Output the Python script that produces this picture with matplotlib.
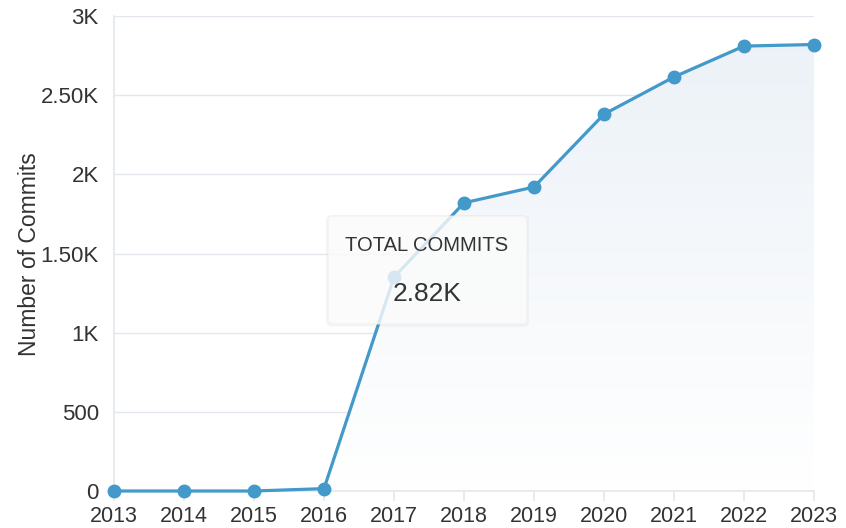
import numpy as np
import matplotlib.pyplot as plt
from matplotlib.patches import FancyBboxPatch, Polygon
from matplotlib.colors import LinearSegmentedColormap

plt.rcParams['font.family'] = ['Liberation Sans', 'DejaVu Sans']

years = [2013, 2014, 2015, 2016, 2017, 2018, 2019, 2020, 2021, 2022, 2023]
commits = [0, 0, 0, 15, 1350, 1820, 1920, 2380, 2615, 2810, 2820]
yticks = [0, 500, 1000, 1500, 2000, 2500, 3000]
ylabels = ['0', '500', '1K', '1.50K', '2K', '2.50K', '3K']

line_col = '#4399c9'
grid_col = '#e3e7ee'
txt_col = '#333333'

fig = plt.figure(figsize=(8.46, 5.28), dpi=100)
ax = fig.add_axes([114/846, 1-491/528, 700/846, 475/528])

ax.set_xlim(2013, 2023)
ax.set_ylim(0, 3000)

# gradient area under the line
grad = np.linspace(1, 0, 256).reshape(-1, 1)
cmap = LinearSegmentedColormap.from_list('g', ['#ffffff', '#ebf1f7'])
im = ax.imshow(grad, cmap=cmap, aspect='auto', extent=[2013, 2023, 0, 3000],
               origin='upper', zorder=1)
poly = Polygon(list(zip(years, commits)) + [(2023, 0), (2013, 0)],
               closed=True, transform=ax.transData, facecolor='none', edgecolor='none')
ax.add_patch(poly)
im.set_clip_path(poly)

ax.plot(years, commits, color=line_col, lw=2.3, marker='o', ms=9,
        zorder=3, clip_on=False)

ax.set_yticks(yticks)
ax.set_yticklabels(ylabels)
ax.set_xticks(years)
ax.set_xticklabels([str(y) for y in years])
ax.grid(axis='y', color=grid_col, lw=1, zorder=0)
ax.set_axisbelow(True)
for s in ['top', 'right']:
    ax.spines[s].set_visible(False)
for s in ['left', 'bottom']:
    ax.spines[s].set_color(grid_col)
    ax.spines[s].set_linewidth(1.2)
ax.tick_params(axis='y', length=0, pad=11, labelsize=16, labelcolor=txt_col)
ax.tick_params(axis='x', length=7, width=1.2, color=grid_col, pad=3.5,
               labelsize=15.5, labelcolor=txt_col)
fig.text(30/846, 1-254/528, 'Number of Commits', rotation=90, ha='center',
         va='center', fontsize=16.5, color=txt_col)

# tooltip box
shadow = FancyBboxPatch((326/846, 1-327/528), 203/846, 112/528,
                        boxstyle='round,pad=0,rounding_size=0.008',
                        transform=fig.transFigure, facecolor='#000000',
                        alpha=0.03, edgecolor='none', zorder=5)
box = FancyBboxPatch((328/846, 1-324/528), 199/846, 108/528,
                     boxstyle='round,pad=0,rounding_size=0.006',
                     transform=fig.transFigure, facecolor='#fdfdfd',
                     alpha=0.8, edgecolor='#eeeeee', lw=0.8, zorder=6)
fig.patches.extend([shadow, box])
fig.text(427/846, 1-246/528, 'TOTAL COMMITS', ha='center', va='center',
         fontsize=14.5, color=txt_col, zorder=7)
fig.text(427/846, 1-294/528, '2.82K', ha='center', va='center',
         fontsize=19, color=txt_col, zorder=7)

fig.savefig('out.png', dpi=100)
